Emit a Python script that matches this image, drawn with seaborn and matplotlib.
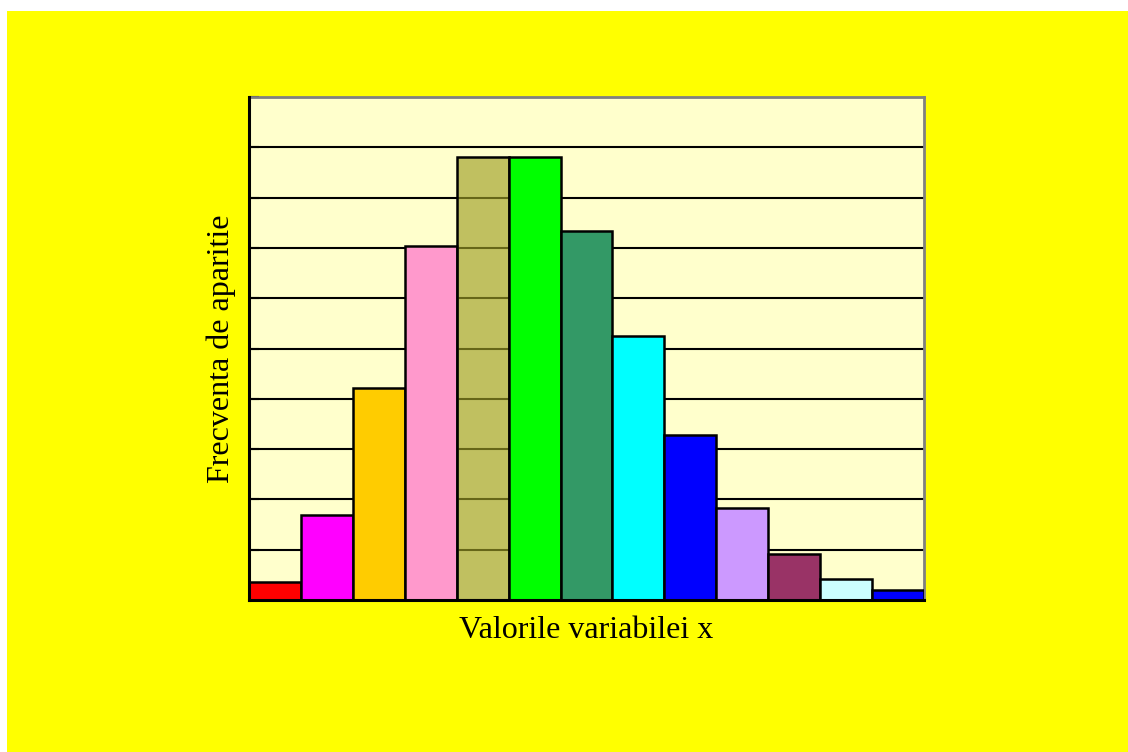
import matplotlib
matplotlib.use("Agg")
import matplotlib.pyplot as plt
from matplotlib.patches import Rectangle
from matplotlib.colors import to_rgb
import seaborn as sns
import pandas as pd

categories = [str(i) for i in range(1, 14)]
frequencies = [0.36, 1.69, 4.22, 7.03, 8.80, 8.80, 7.33, 5.24, 3.28, 1.83, 0.92, 0.42, 0.20]
bar_colors = ["#FF0000", "#FF00FF", "#FFCC00", "#FF99CC", "#C0C060", "#00FF00",
              "#339966", "#00FFFF", "#0000FF", "#CC99FF", "#993366", "#CCFFFF", "#0000FF"]
grid_ticks = list(range(0, 11))
x_label = "Valorile variabilei x"
y_label = "Frecventa de aparitie"

sns.set_theme(style="white")
plt.rcParams["font.family"] = ["Liberation Serif", "DejaVu Serif"]

fig = plt.figure(figsize=(11.28, 7.52), dpi=100, facecolor="white")
fig.patches.append(Rectangle((7 / 1128, 0), 1 - 7 / 1128, 1 - 11 / 752,
                             transform=fig.transFigure, facecolor="#FFFF00",
                             edgecolor="none", zorder=-10))
ax = fig.add_axes([249 / 1128, 1 - 600 / 752, 675 / 1128, 503 / 752])
ax.set_facecolor("#FFFFCC")

df = pd.DataFrame({"x": categories, "y": frequencies})
sns.barplot(data=df, x="x", y="y", hue="x", palette=bar_colors, legend=False,
            width=1.0, edgecolor="black", linewidth=1.8, saturation=1, ax=ax, zorder=3)

# semi-transparent khaki bar lets grid lines show through
khaki_idx = bar_colors.index("#C0C060")
bg = to_rgb("#FFFFCC")
tgt = to_rgb("#C0C060")
a = 0.65
face = tuple(max(0.0, min(1.0, (t - (1 - a) * b) / a)) for t, b in zip(tgt, bg))
ax.patches[khaki_idx].set_facecolor((*face, a))

ax.set_xlim(-0.5, len(categories) - 0.5)
ax.set_ylim(grid_ticks[0], grid_ticks[-1])
ax.set_yticks(grid_ticks)
ax.set_yticklabels([])
ax.set_xticks([])
ax.yaxis.grid(True, color="black", linewidth=1.5, zorder=1)
ax.set_axisbelow(True)
ax.tick_params(axis="y", direction="in", length=7, width=1.5, color="black", left=True)

for side in ["left", "bottom"]:
    ax.spines[side].set_color("black")
    ax.spines[side].set_linewidth(2.2)
    ax.spines[side].set_zorder(5)
for side in ["top", "right"]:
    ax.spines[side].set_color("#808080")
    ax.spines[side].set_linewidth(2)

ax.set_xlabel(x_label, fontsize=23, color="black", labelpad=11.5)
ax.set_ylabel(y_label, fontsize=23, color="black", labelpad=6)

fig.savefig("out.png", dpi=100, facecolor=fig.get_facecolor())
